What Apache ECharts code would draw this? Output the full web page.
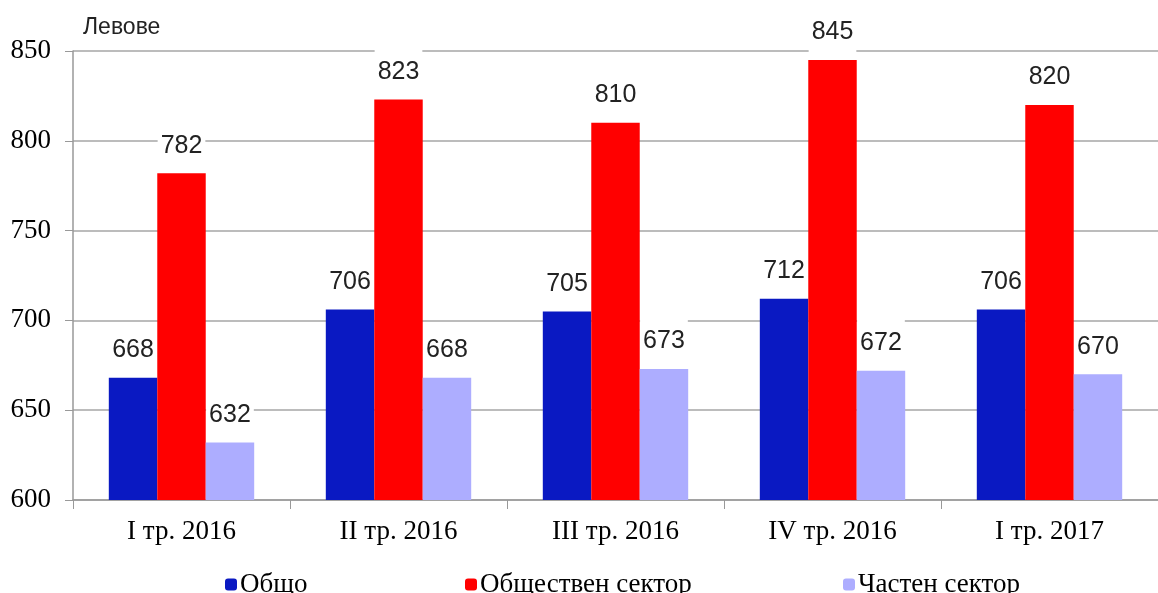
<!DOCTYPE html>
<html><head><meta charset="utf-8">
<script src="https://cdn.jsdelivr.net/npm/echarts@6/dist/echarts.min.js"></script>
<style>html,body{margin:0;padding:0;background:#fff}#c{width:1158px;height:593px}</style>
</head><body><div id="c"></div>
<script>
const categories = ['I тр. 2016', 'II тр. 2016', 'III тр. 2016', 'IV тр. 2016', 'I тр. 2017'];
const seriesNames = ['Общо', 'Обществен сектор', 'Частен сектор'];
const total = [668, 706, 705, 712, 706];
const publicSector = [782, 823, 810, 845, 820];
const privateSector = [632, 668, 673, 672, 670];
const colors = ['#0A19C2', '#FF0000', '#ADADFF'];
const unitLabel = 'Левове';

const chart = echarts.init(document.getElementById('c'), null, {renderer: 'canvas'});
const labelStyle = {
  show: true, position: 'top', distance: 7,
  fontFamily: 'Liberation Sans', fontSize: 25, color: '#222',
  backgroundColor: '#fff', padding: [12, 3, 8, 3], lineHeight: 25
};
const mk = (name, data, color) => ({
  name, type: 'bar', data, itemStyle: {color}, barGap: '0%', barCategoryGap: '33%',
  label: labelStyle
});
const legendBase = {top: 566, itemWidth: 12, itemHeight: 12, itemGap: 0,
  textStyle: {fontFamily: 'Liberation Serif', fontSize: 27, color: '#000', padding: [0, 0, 0, -2]}};
chart.setOption({
  animation: false,
  title: {text: unitLabel, left: 78, top: 11, textStyle: {fontFamily: 'Liberation Sans', fontWeight: 'normal', fontSize: 23, color: '#222'}},
  legend: [
    Object.assign({left: 220, data: [seriesNames[0]]}, legendBase),
    Object.assign({left: 460, data: [seriesNames[1]]}, legendBase),
    Object.assign({left: 838, data: [seriesNames[2]]}, legendBase)
  ],
  grid: {left: 73, top: 51, width: 1098, height: 449, containLabel: false},
  xAxis: {
    type: 'category', data: categories,
    axisLine: {lineStyle: {color: '#999', width: 1.5}},
    axisTick: {show: true, length: 9, lineStyle: {color: '#999'}},
    axisLabel: {fontFamily: 'Liberation Serif', fontSize: 27, color: '#000', margin: 18}
  },
  yAxis: {
    type: 'value', min: 600, max: 850, interval: 50,
    axisLine: {show: true, lineStyle: {color: '#999', width: 1.5}},
    axisTick: {show: true, length: 8, lineStyle: {color: '#999'}},
    axisLabel: {fontFamily: 'Liberation Serif', fontSize: 27, color: '#000', margin: 22},
    splitLine: {lineStyle: {color: '#A6A6A6', width: 1.5}}
  },
  series: [
    mk(seriesNames[0], total, colors[0]),
    mk(seriesNames[1], publicSector, colors[1]),
    mk(seriesNames[2], privateSector, colors[2])
  ]
});
</script></body></html>
